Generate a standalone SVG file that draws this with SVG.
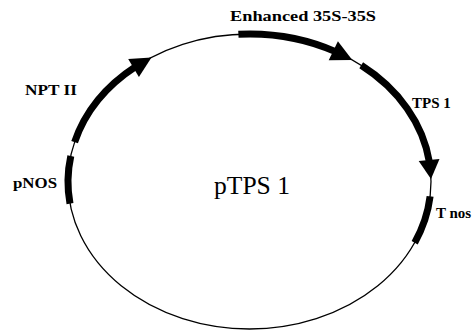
<svg xmlns="http://www.w3.org/2000/svg" width="476" height="331" viewBox="0 0 476 331">
<style>
.lbl{font-family:"Liberation Serif","Times New Roman",serif;font-weight:bold;font-size:15px;fill:#000}
.title{font-family:"Liberation Serif","Times New Roman",serif;font-size:25px;fill:#000}
.thick{fill:none;stroke:#000;stroke-width:7}
.head{fill:#000;stroke:none}
</style>
<rect width="476" height="331" fill="#fff"/>
<g id="plasmid">
<ellipse cx="249.5" cy="181.5" rx="181.5" ry="147.5" fill="none" stroke="#000" stroke-width="1.3"/>
</g>
<g id="connectors">
<g id="npt2">
<path class="thick" d="M74.6,142.1 A181.5,147.5 0 0 1 136.0,66.4"/>
<polygon class="head" points="151.5,57.4 138.9,77.0 128.2,59.0"/>
</g>
<g id="enhanced">
<path class="thick" d="M238.4,34.3 A181.5,147.5 0 0 1 336.1,51.9"/>
<polygon class="head" points="352.3,59.9 328.7,60.2 337.9,41.3"/>
</g>
<g id="tps1">
<path class="thick" d="M361.2,65.3 A181.5,147.5 0 0 1 429.5,162.5"/>
<polygon class="head" points="431.0,178.9 418.7,161.1 439.5,158.9"/>
</g>
<g id="tnos">
<path class="thick" stroke-width="6" d="M430.1,196.4 A181.5,147.5 0 0 1 414.7,242.7"/>
</g>
<g id="pnos">
<path class="thick" stroke-width="6" d="M70.0,203.6 A181.5,147.5 0 0 1 70.8,155.9"/>
</g>
</g>
<g id="labels">
<text class="lbl" x="230" y="21" textLength="146" lengthAdjust="spacingAndGlyphs">Enhanced 35S-35S</text>
<text class="lbl" x="25" y="95" textLength="52" lengthAdjust="spacingAndGlyphs">NPT II</text>
<text class="lbl" x="412" y="108">TPS 1</text>
<text class="lbl" x="436" y="218">T nos</text>
<text class="lbl" x="13" y="188" textLength="44" lengthAdjust="spacingAndGlyphs">pNOS</text>
<text class="title" x="214" y="194" textLength="76" lengthAdjust="spacingAndGlyphs">pTPS 1</text>
</g>
</svg>
